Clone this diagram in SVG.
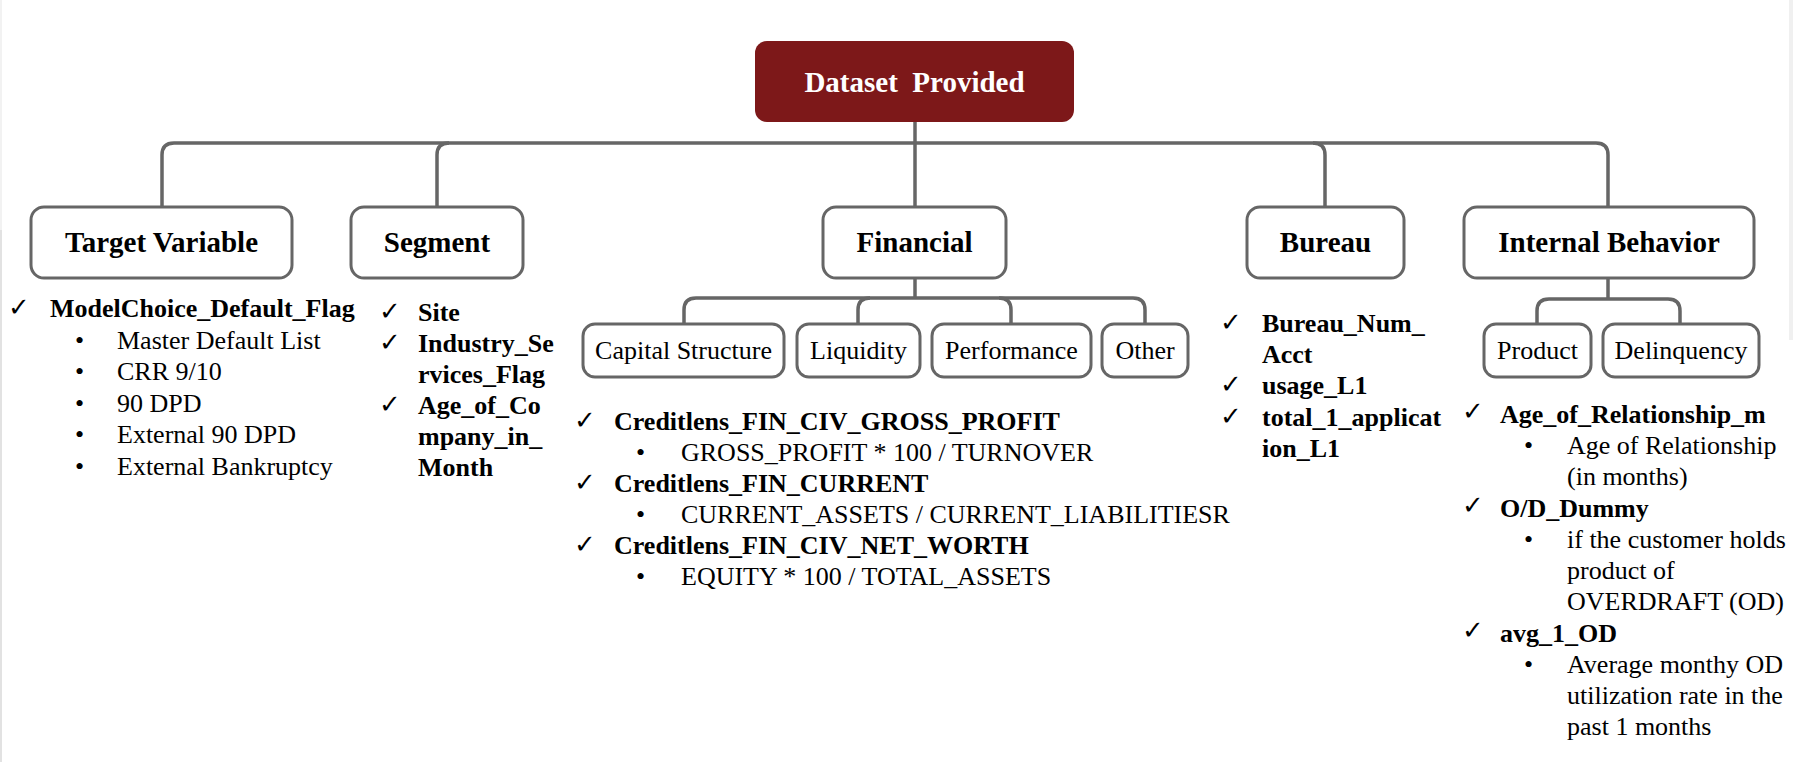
<svg xmlns="http://www.w3.org/2000/svg" width="1793" height="762" viewBox="0 0 1793 762" font-family="'Liberation Serif', Tinos, 'DejaVu Serif', serif">
<style>
.box{fill:#fff;stroke:#666;stroke-width:3}
.root{fill:#7d1819}
.conn{fill:none;stroke:#666;stroke-width:3.5}
.h{font-family:'Liberation Serif',Tinos,'DejaVu Serif',serif;font-weight:bold;font-size:29px;fill:#000;text-anchor:middle}
.hw{fill:#fff}
.s{font-family:'Liberation Serif',Tinos,'DejaVu Serif',serif;font-size:26px;fill:#000;text-anchor:middle}
.b{font-family:'Liberation Serif',Tinos,'DejaVu Serif',serif;font-weight:bold;font-size:26px;fill:#000}
.r{font-family:'Liberation Serif',Tinos,'DejaVu Serif',serif;font-size:26px;fill:#000}
.ck{font-family:'DejaVu Sans',sans-serif;font-size:26px;fill:#000}
</style>
<rect x="0" y="0" width="1793" height="762" fill="#fff"/>
<rect x="0" y="0" width="2" height="230" fill="#f2f2f2"/>
<rect x="0" y="230" width="2" height="532" fill="#e2e2e2"/>
<rect x="1789" y="0" width="4" height="340" fill="#f0f0f0"/>

<g id="connectors">
<path class="conn" d="M162,207 V155 Q162,143 174,143 H1596 Q1608,143 1608,155 V207"/>
<path class="conn" d="M437,207 V155 Q437,143 449,143"/>
<path class="conn" d="M1313,143 Q1325,143 1325,155 V207"/>
<path class="conn" d="M915,122 V207"/>
<path class="conn" d="M915,278 V298"/>
<path class="conn" d="M684,324 V310 Q684,298 696,298 H1133 Q1145,298 1145,310 V324"/>
<path class="conn" d="M858,324 V310 Q858,298 870,298"/>
<path class="conn" d="M999,298 Q1011,298 1011,310 V324"/>
<path class="conn" d="M1608,278 V299"/>
<path class="conn" d="M1537,324 V311 Q1537,299 1549,299 H1668 Q1680,299 1680,311 V324"/>
</g>

<g id="dataset">
<rect class="root" x="755" y="41" width="319" height="81" rx="12"/>
<text class="h hw" x="914.5" y="92" xml:space="preserve">Dataset  Provided</text>
</g>

<g id="target">
<rect class="box" x="31" y="207" width="261" height="71" rx="13"/>
<text class="h" x="161.5" y="252">Target Variable</text>
</g>
<g id="target-list">
<text class="ck" x="8" y="316">✓</text>
<text class="b" x="50" y="317">ModelChoice_Default_Flag</text>
<text class="r" x="75" y="348.5">•</text><text class="r" x="117" y="348.5">Master Default List</text>
<text class="r" x="75" y="380">•</text><text class="r" x="117" y="380">CRR 9/10</text>
<text class="r" x="75" y="411.5">•</text><text class="r" x="117" y="411.5">90 DPD</text>
<text class="r" x="75" y="443">•</text><text class="r" x="117" y="443">External 90 DPD</text>
<text class="r" x="75" y="474.5">•</text><text class="r" x="117" y="474.5">External Bankruptcy</text>
</g>

<g id="segment">
<rect class="box" x="351" y="207" width="172" height="71" rx="13"/>
<text class="h" x="437" y="252">Segment</text>
</g>
<g id="segment-list">
<text class="ck" x="379" y="320">✓</text>
<text class="b" x="418" y="321">Site</text>
<text class="ck" x="379" y="351">✓</text>
<text class="b" x="418" y="352">Industry_Se</text>
<text class="b" x="418" y="383">rvices_Flag</text>
<text class="ck" x="379" y="413">✓</text>
<text class="b" x="418" y="414">Age_of_Co</text>
<text class="b" x="418" y="445">mpany_in_</text>
<text class="b" x="418" y="476">Month</text>
</g>

<g id="financial">
<rect class="box" x="823" y="207" width="183" height="71" rx="13"/>
<text class="h" x="914.5" y="252">Financial</text>
</g>
<g id="capital-structure">
<rect class="box" x="583" y="324" width="201" height="53" rx="12"/>
<text class="s" x="683.5" y="359">Capital Structure</text>
</g>
<g id="liquidity">
<rect class="box" x="797" y="324" width="123" height="53" rx="12"/>
<text class="s" x="858.5" y="359">Liquidity</text>
</g>
<g id="performance">
<rect class="box" x="932" y="324" width="159" height="53" rx="12"/>
<text class="s" x="1011.5" y="359">Performance</text>
</g>
<g id="other">
<rect class="box" x="1102" y="324" width="86" height="53" rx="12"/>
<text class="s" x="1145" y="359">Other</text>
</g>
<g id="financial-list">
<text class="ck" x="574" y="429">✓</text>
<text class="b" x="614" y="430">Creditlens_FIN_CIV_GROSS_PROFIT</text>
<text class="r" x="636" y="461">•</text><text class="r" x="681" y="461">GROSS_PROFIT * 100 / TURNOVER</text>
<text class="ck" x="574" y="491">✓</text>
<text class="b" x="614" y="492">Creditlens_FIN_CURRENT</text>
<text class="r" x="636" y="523">•</text><text class="r" x="681" y="523">CURRENT_ASSETS / CURRENT_LIABILITIESR</text>
<text class="ck" x="574" y="553">✓</text>
<text class="b" x="614" y="554">Creditlens_FIN_CIV_NET_WORTH</text>
<text class="r" x="636" y="585">•</text><text class="r" x="681" y="585">EQUITY * 100 / TOTAL_ASSETS</text>
</g>

<g id="bureau">
<rect class="box" x="1247" y="207" width="157" height="71" rx="13"/>
<text class="h" x="1325.5" y="252">Bureau</text>
</g>
<g id="bureau-list">
<text class="ck" x="1220" y="331">✓</text>
<text class="b" x="1262" y="332">Bureau_Num_</text>
<text class="b" x="1262" y="363">Acct</text>
<text class="ck" x="1220" y="393">✓</text>
<text class="b" x="1262" y="394">usage_L1</text>
<text class="ck" x="1220" y="425">✓</text>
<text class="b" x="1262" y="426">total_1_applicat</text>
<text class="b" x="1262" y="457">ion_L1</text>
</g>

<g id="internal-behavior">
<rect class="box" x="1464" y="207" width="290" height="71" rx="13"/>
<text class="h" x="1609" y="252">Internal Behavior</text>
</g>
<g id="product">
<rect class="box" x="1484" y="324" width="107" height="53" rx="12"/>
<text class="s" x="1537.5" y="359">Product</text>
</g>
<g id="delinquency">
<rect class="box" x="1603" y="324" width="156" height="53" rx="12"/>
<text class="s" x="1681" y="359">Delinquency</text>
</g>
<g id="internal-list">
<text class="ck" x="1462" y="420">✓</text>
<text class="b" x="1500" y="423">Age_of_Relationship_m</text>
<text class="r" x="1524" y="454">•</text><text class="r" x="1567" y="454">Age of Relationship</text>
<text class="r" x="1567" y="485">(in months)</text>
<text class="ck" x="1462" y="514">✓</text>
<text class="b" x="1500" y="517">O/D_Dummy</text>
<text class="r" x="1524" y="548">•</text><text class="r" x="1567" y="548">if the customer holds</text>
<text class="r" x="1567" y="579">product of</text>
<text class="r" x="1567" y="610">OVERDRAFT (OD)</text>
<text class="ck" x="1462" y="639">✓</text>
<text class="b" x="1500" y="642">avg_1_OD</text>
<text class="r" x="1524" y="673">•</text><text class="r" x="1567" y="673">Average monthy OD</text>
<text class="r" x="1567" y="704">utilization rate in the</text>
<text class="r" x="1567" y="735">past 1 months</text>
</g>
</svg>
